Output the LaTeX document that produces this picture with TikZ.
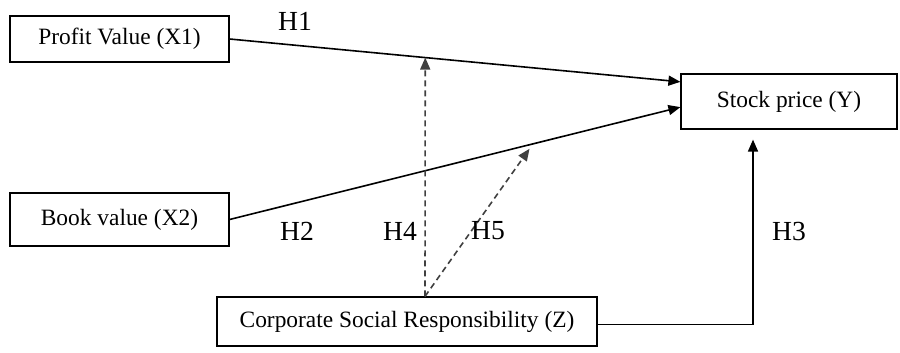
\documentclass[tikz,border=0pt]{standalone}
\usepackage{fontspec}
\setmainfont{Liberation Serif}
\usetikzlibrary{calc}
\usetikzlibrary{positioning}
\usetikzlibrary{arrows.meta}

\begin{document}
\begin{tikzpicture}[x=0.5pt, y=-0.5pt, ->, >={Triangle[length=6pt,width=5pt]}, line width=0.8pt, font=\fontsize{11.7}{13}\selectfont]
    \tikzstyle{block}=[draw=black, rectangle, fill=none, inner sep=0pt, line width=0.6pt, minimum width=109.5pt]
    \tikzstyle{hyp}=[font=\fontsize{13.8}{15}\selectfont]
    \tikzstyle{mod}=[dashed, dash pattern=on 3pt off 2pt, draw=black!75]

    \useasboundingbox (0,0) rectangle (900,353);

    \node[block, minimum height=23pt] (x1) at (119.5,39) {Profit Value (X1)};
    \node[block, minimum height=26.5pt] (x2) at (119.5,219.5) {Book value (X2)};
    \node[block, minimum width=108pt, minimum height=27.5pt] (y) at (789,101.5) {Stock price (Y)};
    \node[block, minimum width=190pt, minimum height=24.5pt] (z) at (407,321.5) {Corporate Social Responsibility (Z)};

    % end points on the boxes
    \coordinate (yin1) at ($(y.north west)!0.15!(y.south west)$);
    \coordinate (yin2) at ($(y.north west)!0.6!(y.south west)$);
    \coordinate (ybot) at ($(y.south)+(-36,10)$);
    \coordinate (zout) at ($(z.east)+(0,3)$);
    \coordinate (ztop) at ($(z.north)+(18,0)$);
    \coordinate (m1) at ($(x1.east)!0.434!(yin1)$);
    \coordinate (m2) at ($(x2.east)!0.673!(yin2)$);

    \path (x1.east) edge (yin1);
    \path (x2.east) edge (yin2);
    \draw (zout) -| (ybot);

    \draw[mod] (ztop) -- (m1);
    \draw[mod, shorten >=3pt] (ztop) -- (m2);

    \node[hyp] (h1) at (295,21) {H1};
    \node[hyp] (h2) at (297,231) {H2};
    \node[hyp] (h4) at (400,231) {H4};
    \node[hyp] (h5) at (488,231) {H5};
    \node[hyp] (h3) at (789,231) {H3};
\end{tikzpicture}
\end{document}
